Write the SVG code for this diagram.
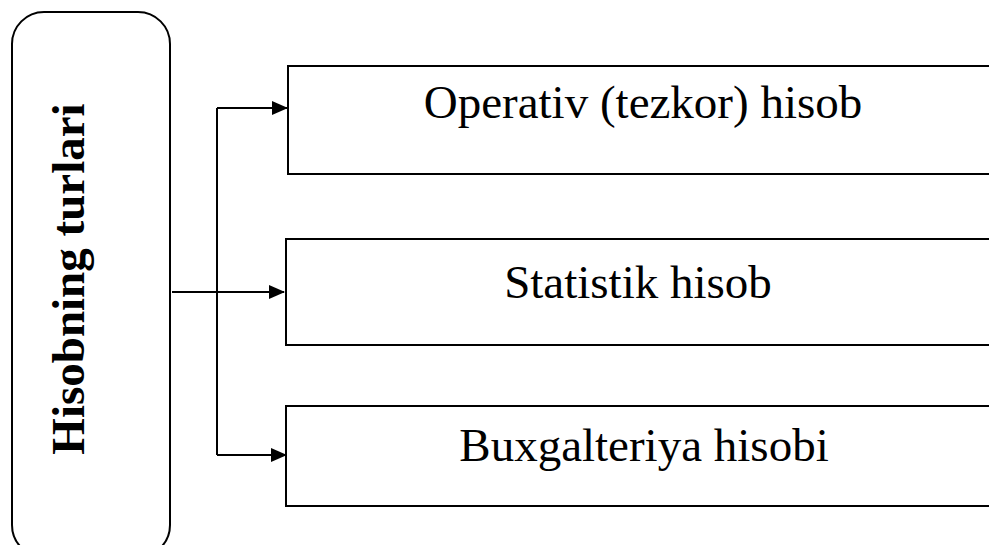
<svg xmlns="http://www.w3.org/2000/svg" width="989" height="545" viewBox="0 0 989 545">
<style>
.box{fill:#fff;stroke:#000;stroke-width:2}
.conn{fill:none;stroke:#000;stroke-width:2}
.t{font-family:"Liberation Serif","Times New Roman",serif;font-size:47px;fill:#000}
.tb{font-family:"Liberation Serif","Times New Roman",serif;font-size:47px;font-weight:bold;fill:#000}
</style>
<defs>
<marker id="ah" markerWidth="17" markerHeight="14" refX="15" refY="7" orient="auto" markerUnits="userSpaceOnUse">
<path d="M0,0 L16,7 L0,14 Z" fill="#000"/>
</marker>
</defs>
<g id="root">
<rect class="box" x="12" y="12" width="158" height="545" rx="32" ry="32"/>
<text class="tb" text-anchor="middle" transform="translate(84,279) rotate(-90)">Hisobning turlari</text>
</g>
<g id="n1">
<rect class="box" x="288" y="66" width="720" height="108"/>
<text class="t" x="643" y="118" text-anchor="middle">Operativ (tezkor) hisob</text>
</g>
<g id="n2">
<rect class="box" x="286" y="239" width="720" height="106"/>
<text class="t" x="638" y="298" text-anchor="middle">Statistik hisob</text>
</g>
<g id="n3">
<rect class="box" x="286" y="406" width="720" height="100"/>
<text class="t" x="644" y="461" text-anchor="middle">Buxgalteriya hisobi</text>
</g>
<g id="connectors">
<path class="conn" d="M217,108 V455"/>
<path class="conn" d="M217,108 H287" marker-end="url(#ah)"/>
<path class="conn" d="M172,292 H284" marker-end="url(#ah)"/>
<path class="conn" d="M217,455 H286" marker-end="url(#ah)"/>
</g>
</svg>
